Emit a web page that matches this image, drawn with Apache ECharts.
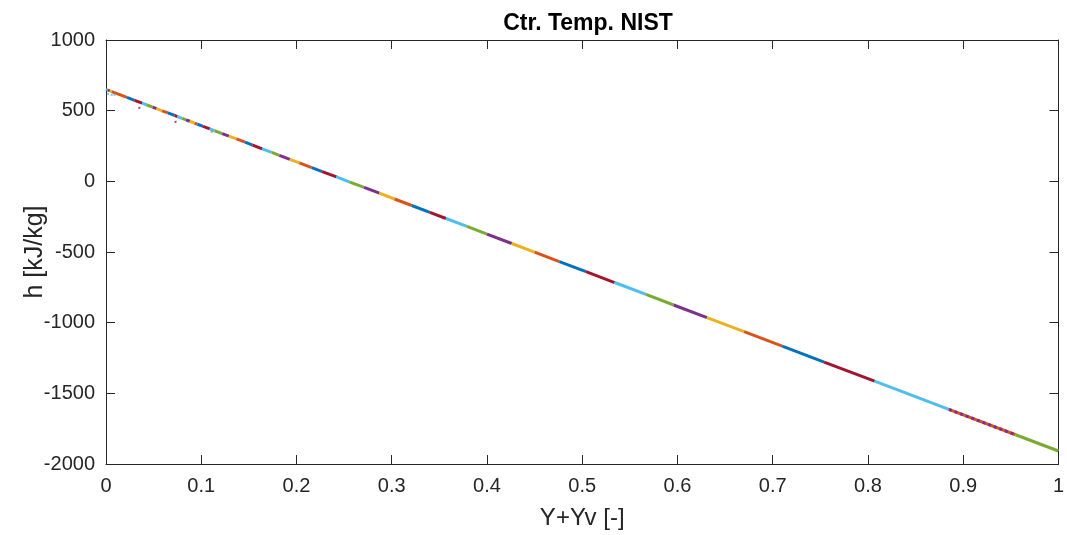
<!DOCTYPE html>
<html>
<head>
<meta charset="utf-8">
<title>Ctr. Temp. NIST</title>
<script src="https://cdn.jsdelivr.net/npm/echarts@6/dist/echarts.min.js"></script>
<style>
  html, body { margin: 0; padding: 0; background: #ffffff; }
  #chart { width: 1067px; height: 535px; }
</style>
</head>
<body>
<div id="chart"></div>
<script>
// Mass fraction Y+Yv at the boundaries of each plotted run
const breakY = [0, 0.001, 0.002, 0.004, 0.006, 0.022, 0.030, 0.038, 0.043, 0.049,
  0.053, 0.059, 0.065, 0.072, 0.075, 0.080, 0.084, 0.088, 0.093, 0.096,
  0.102, 0.109, 0.114, 0.122, 0.129, 0.137, 0.146, 0.154, 0.164, 0.174,
  0.182, 0.193, 0.203, 0.216, 0.227, 0.242, 0.256, 0.271, 0.287, 0.303,
  0.321, 0.340, 0.357, 0.379, 0.400, 0.426, 0.450, 0.476, 0.504, 0.534,
  0.567, 0.596, 0.631, 0.670, 0.710, 0.754, 0.807, 0.885, 0.955, 1];
// Enthalpy h [kJ/kg] at those boundaries
const breakH = [650, 647, 645, 640, 635, 594, 573, 553, 540, 525,
  514, 499, 484, 466, 458, 445, 435, 425, 412, 404,
  389, 371, 358, 338, 320, 300, 277, 256, 230, 205,
  184, 156, 131, 97, 69, 31, -5, -43, -84, -125,
  -171, -220, -263, -319, -373, -440, -501, -568, -639, -716,
  -800, -875, -964, -1064, -1166, -1279, -1414, -1614, -1793, -1908];

// Stray points lying off the main curve
const strayY = [0.002, 0.006, 0.009, 0.035, 0.073, 0.111];
const strayH = [619, 612, 612, 520, 421, 351];

const xTicks = { min: 0, max: 1, interval: 0.1 };
const yTicks = { min: -2000, max: 1000, interval: 500 };

// MATLAB default colour order
const palette = ['#0072BD', '#D95319', '#EDB120', '#7E2F8E', '#77AC30', '#4DBEEE', '#A2142F'];
const strayColors = ['#4DBEEE', '#4DBEEE', '#4DBEEE', '#A2142F', '#A2142F', '#E0607A'];

const textColor = '#262626';
const font = 'Liberation Sans, Arial, Helvetica, sans-serif';
const lineW = 3;

const series = [];
const nSeg = breakY.length - 1;
for (let i = 0; i < nSeg; i++) {
  const seg = [[breakY[i], breakH[i]], [breakY[i + 1], breakH[i + 1]]];
  const base = { type: 'line', data: seg, symbol: 'none', silent: true, animation: false, z: 3 };
  if (i === nSeg - 2) {
    // overlapping runs: orange beneath a dashed purple one
    series.push(Object.assign({}, base, { lineStyle: { color: '#D95319', width: lineW } }));
    series.push(Object.assign({}, base, { data: seg.slice(), lineStyle: { color: '#7E2F8E', width: lineW, type: [3, 3] } }));
  } else if (i === nSeg - 1) {
    series.push(Object.assign({}, base, { lineStyle: { color: '#77AC30', width: lineW } }));
  } else {
    const c = palette[((5 - i) % 7 + 7) % 7];
    series.push(Object.assign({}, base, { lineStyle: { color: c, width: lineW } }));
  }
}
series.push({
  type: 'scatter',
  data: strayY.map((y, k) => ({ value: [y, strayH[k]], itemStyle: { color: strayColors[k] } })),
  symbol: 'rect',
  symbolSize: 2,
  silent: true,
  animation: false,
  z: 4
});

const axisLine = { show: true, onZero: false, lineStyle: { color: textColor, width: 1 } };
const axisTick = { show: true, inside: true, length: 9, lineStyle: { color: textColor, width: 1 } };

const option = {
  backgroundColor: '#ffffff',
  animation: false,
  title: {
    text: 'Ctr. Temp. NIST',
    left: 583,
    textAlign: 'center',
    top: 7,
    textStyle: { fontFamily: font, fontSize: 23, fontWeight: 'bold', color: '#000000' }
  },
  grid: { left: 106, right: 7, top: 40, bottom: 70 },
  xAxis: [
    {
      type: 'value', min: xTicks.min, max: xTicks.max, interval: xTicks.interval,
      name: 'Y+Yv [-]', nameLocation: 'middle', nameGap: 42,
      nameTextStyle: { fontFamily: font, fontSize: 24, color: textColor },
      axisLine: axisLine, axisTick: axisTick, splitLine: { show: false },
      axisLabel: { fontFamily: font, fontSize: 20, color: textColor, margin: 12 }
    },
    {
      type: 'value', position: 'top', min: xTicks.min, max: xTicks.max, interval: xTicks.interval,
      axisLine: axisLine, axisTick: axisTick, splitLine: { show: false }, axisLabel: { show: false }
    }
  ],
  yAxis: [
    {
      type: 'value', min: yTicks.min, max: yTicks.max, interval: yTicks.interval,
      name: 'h [kJ/kg]', nameLocation: 'middle', nameGap: 58, nameRotate: 90,
      nameMoveOverlap: false,
      nameTextStyle: { fontFamily: font, fontSize: 25, color: textColor },
      axisLine: axisLine, axisTick: axisTick, splitLine: { show: false },
      axisLabel: { fontFamily: font, fontSize: 20, color: textColor, margin: 11,
        formatter: v => String(v) }
    },
    {
      type: 'value', position: 'right', min: yTicks.min, max: yTicks.max, interval: yTicks.interval,
      axisLine: axisLine, axisTick: axisTick, splitLine: { show: false }, axisLabel: { show: false }
    }
  ],
  series: series
};

const chart = echarts.init(document.getElementById('chart'), null, { renderer: 'canvas' });
chart.setOption(option);
</script>
</body>
</html>
